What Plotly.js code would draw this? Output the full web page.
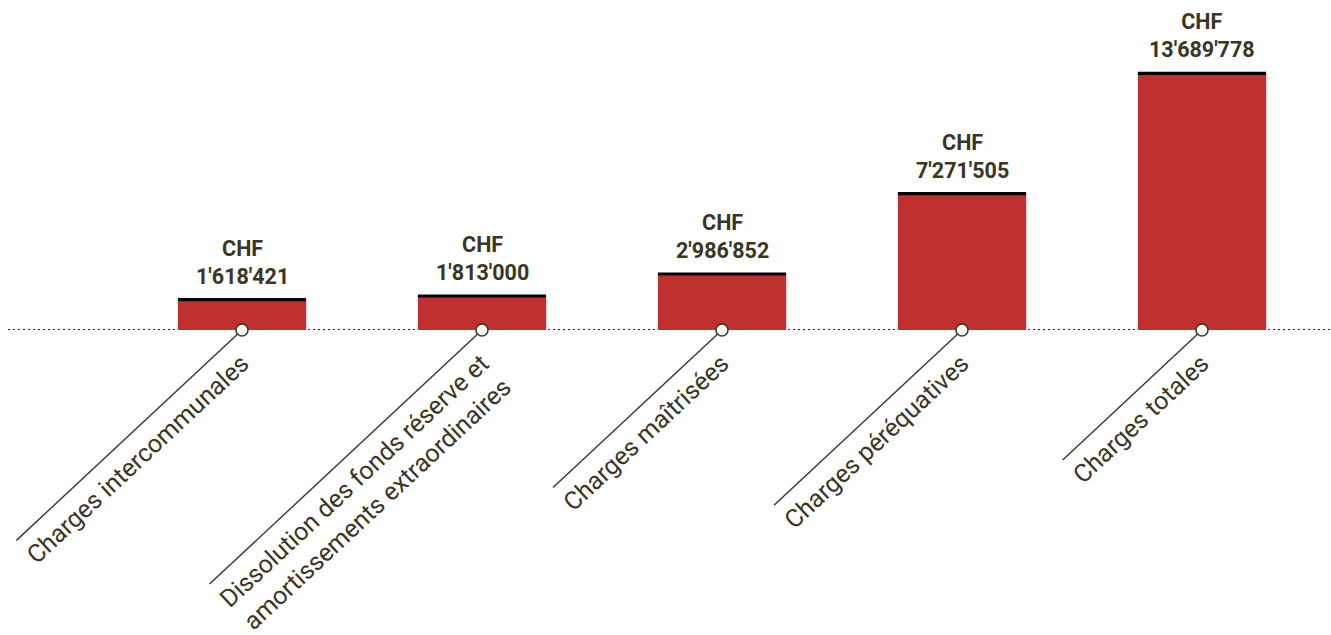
<!DOCTYPE html>
<html>
<head>
<meta charset="utf-8">
<script src="https://cdn.plot.ly/plotly-3.0.1.min.js"></script>
<style>
  html, body { margin: 0; padding: 0; background: #ffffff; }
  #chart { width: 1331px; height: 635px; }
</style>
</head>
<body>
<div id="chart"></div>
<script>
// ---- data ----
const categories = [
  "Charges intercommunales",
  "Dissolution des fonds réserve et<br>amortissements extraordinaires",
  "Charges maîtrisées",
  "Charges péréquatives",
  "Charges totales"
];
const values = [1618421, 1813000, 2986852, 7271505, 13689778];
const currency = "CHF";

// ---- helpers ----
function fmt(v) {
  return String(v).replace(/\B(?=(\d{3})+(?!\d))/g, "'");
}
const idx = categories.map((c, i) => i);
const zeros = categories.map(() => 0);

const TEXT = "#3a3525";
const RED = "#c0302f";
const ANGLE = 43; // degrees
const TICK_FONT = { family: "Roboto, sans-serif", size: 25, weight: 400, color: TEXT };

// measure label widths (longest line) to size the leader lines
const cv = document.createElement("canvas").getContext("2d");
cv.font = TICK_FONT.weight + " " + TICK_FONT.size + "px Roboto";
function labelWidth(lbl) {
  return Math.max.apply(null, lbl.split("<br>").map(s => cv.measureText(s).width));
}

const traces = [
  {
    type: "bar",
    x: idx,
    y: values,
    marker: { color: RED },
    hoverinfo: "skip",
    width: 0.535
  },
  {
    type: "scatter",
    mode: "markers",
    x: idx,
    y: values,
    marker: { symbol: "line-ew", size: 91.5, color: "#000", line: { width: 3.2, color: "#000" } },
    hoverinfo: "skip",
    cliponaxis: false
  },
  {
    type: "scatter",
    mode: "markers",
    x: idx,
    y: zeros,
    marker: { symbol: "circle", size: 12, color: "#ffffff", line: { width: 1.5, color: TEXT } },
    hoverinfo: "skip",
    cliponaxis: false
  }
];

const annotations = idx.map(i => ({
  x: i, y: values[i], xref: "x", yref: "y",
  text: currency + "<br>" + fmt(values[i]),
  showarrow: false,
  xanchor: "center", yanchor: "bottom",
  yshift: 9,
  font: { family: "Roboto, sans-serif", size: 21.5, weight: 700, color: TEXT }
}));

const rad = ANGLE * Math.PI / 180;
const leaders = idx.map(i => {
  const L = labelWidth(categories[i]) + 16;
  return {
    type: "line", xref: "x", yref: "paper",
    xsizemode: "pixel", ysizemode: "pixel",
    xanchor: idx[i], yanchor: 0,
    x0: 0, x1: -L * Math.cos(rad),
    y0: 0, y1: -L * Math.sin(rad),
    line: { color: TEXT, width: 1.4 },
    layer: "below"
  };
});

const shapes = [
  {
    type: "line", xref: "paper", yref: "y",
    x0: 0, x1: 1, y0: 0, y1: 0,
    line: { color: "#222", width: 2, dash: "2px,3px" },
    layer: "below"
  }
].concat(leaders);

const layout = {
  width: 1331, height: 635,
  margin: { l: 8, r: 0, t: 0, b: 305 },
  paper_bgcolor: "#ffffff",
  plot_bgcolor: "#ffffff",
  showlegend: false,
  xaxis: {
    type: "linear",
    range: [-0.975, 4.5375],
    tickmode: "array",
    tickvals: idx,
    ticktext: categories,
    tickangle: -ANGLE,
    showgrid: false, zeroline: false, showline: false, ticks: "",
    tickfont: TICK_FONT,
    ticklabelstandoff: 13
  },
  yaxis: {
    range: [0, 17.6e6],
    visible: false,
    showgrid: false, zeroline: false
  },
  annotations: annotations,
  shapes: shapes
};

Plotly.newPlot("chart", traces, layout, { staticPlot: true, displayModeBar: false });
</script>
</body>
</html>
